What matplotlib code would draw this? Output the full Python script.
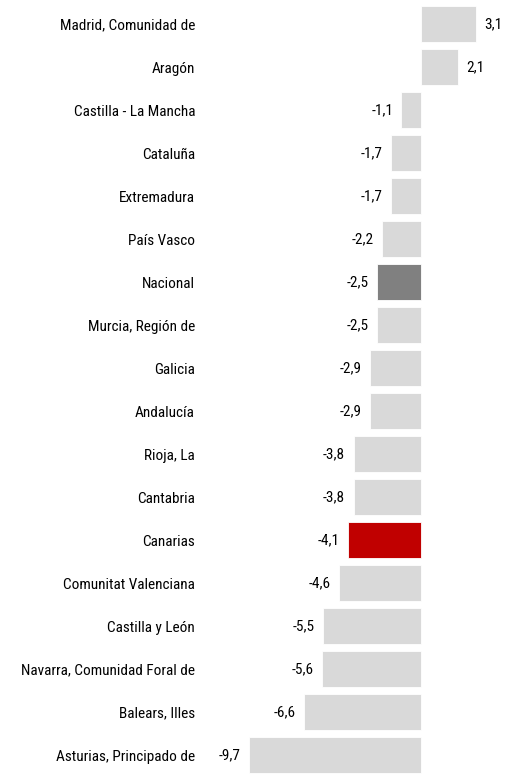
import matplotlib.pyplot as plt
import numpy as np

plt.rcParams['font.family'] = ['Roboto Condensed', 'Liberation Sans', 'DejaVu Sans']

regiones = ['Madrid, Comunidad de', 'Aragón', 'Castilla - La Mancha', 'Cataluña',
            'Extremadura', 'País Vasco', 'Nacional', 'Murcia, Región de', 'Galicia',
            'Andalucía', 'Rioja, La', 'Cantabria', 'Canarias', 'Comunitat Valenciana',
            'Castilla y León', 'Navarra, Comunidad Foral de', 'Balears, Illes',
            'Asturias, Principado de']
valores = [3.1, 2.1, -1.1, -1.7, -1.7, -2.2, -2.5, -2.5, -2.9, -2.9, -3.8, -3.8,
           -4.1, -4.6, -5.5, -5.6, -6.6, -9.7]

colores = []
for r in regiones:
    if r == 'Nacional':
        colores.append('#808080')
    elif r == 'Canarias':
        colores.append('#c00000')
    else:
        colores.append('#d9d9d9')

W, H = 516, 776
fs = 11
fig = plt.figure(figsize=(W / 100, H / 100), dpi=100)
# axes starts at pixel 200, zero line at pixel 421
ax = fig.add_axes([200 / W, 0, 1 - 200 / W, 1])

escala = 17.75  # px per unit
ax.set_xlim((200 - 421) / escala, (W - 421) / escala)
paso = 43.0
ax.set_ylim((H - 24) / paso, -24 / paso)

y = np.arange(len(regiones))
ax.barh(y, valores, height=0.84, color=colores, edgecolor='white', linewidth=0.6)

for yi, v in zip(y, valores):
    txt = f'{v:.1f}'.replace('.', ',')
    if v >= 0:
        ax.annotate(txt, (v, yi), xytext=(6, 0), textcoords='offset points',
                    ha='left', va='center', fontsize=fs)
    else:
        ax.annotate(txt, (v, yi), xytext=(-6, 0), textcoords='offset points',
                    ha='right', va='center', fontsize=fs)

ax.set_yticks(y)
ax.set_yticklabels(regiones, fontsize=fs)
ax.tick_params(axis='y', length=0, pad=3.6)
ax.set_xticks([])
for s in ax.spines.values():
    s.set_visible(False)

fig.savefig('out.png', dpi=100)
